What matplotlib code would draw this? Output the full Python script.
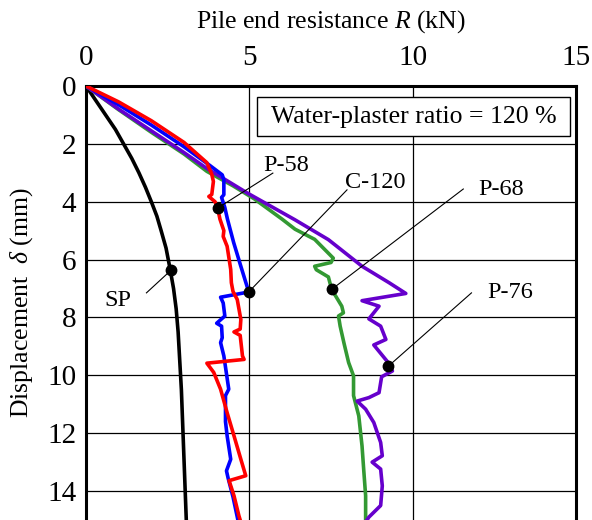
import matplotlib
matplotlib.use("Agg")
import matplotlib.pyplot as plt
from matplotlib.patches import Rectangle

plt.rcParams["font.family"] = ["Liberation Serif", "DejaVu Serif"]
plt.rcParams["mathtext.fontset"] = "custom"
plt.rcParams["mathtext.rm"] = "Liberation Serif"
plt.rcParams["mathtext.it"] = "Liberation Serif:italic"

# curves: resistance R (kN) vs displacement (mm)
sp_r = [0, 0.3, 0.6, 0.9, 1.15, 1.4, 1.62, 1.82, 2.0, 2.17, 2.3, 2.45, 2.57, 2.68,
        2.76, 2.82, 2.87, 2.92, 2.97, 3.02, 3.07]
sp_d = [0, 0.5, 1.0, 1.5, 2.0, 2.5, 3.0, 3.5, 4.0, 4.5, 5.0, 5.6, 6.3, 7.0,
        7.7, 8.5, 9.5, 10.5, 12.0, 13.5, 15.0]

p58_r = [0, 1.0, 2.0, 3.0, 3.7, 3.85, 3.9, 3.85, 3.76, 3.95, 4.03, 4.1, 4.22, 4.2,
         4.32, 4.43, 4.45, 4.5, 4.63, 4.74, 4.72, 4.53, 4.72, 4.79, 4.84, 3.7,
         3.91, 4.12, 4.32, 4.53, 4.74, 4.89, 4.38, 4.53, 4.68, 4.72]
p58_d = [0, 0.55, 1.2, 1.95, 2.65, 3.05, 3.3, 3.75, 3.82, 4.0, 4.22, 4.6, 5.0, 5.2,
         5.54, 6.34, 6.8, 7.1, 7.38, 8.07, 8.4, 8.5, 8.62, 9.33, 9.45, 9.58,
         9.9, 10.48, 11.29, 12.09, 12.9, 13.47, 13.64, 14.16, 14.85, 15.0]

c120_r = [0, 1.0, 2.0, 3.0, 3.76, 4.17, 4.22, 4.22, 4.15, 4.25, 4.33, 4.52, 4.74,
          4.95, 4.98, 4.12, 4.2, 4.25, 4.0, 4.15, 4.17, 4.12, 4.22, 4.37, 4.27,
          4.27, 4.32, 4.43, 4.3, 4.35, 4.5, 4.65]
c120_d = [0, 0.65, 1.35, 2.1, 2.72, 3.07, 3.24, 3.76, 3.85, 4.2, 4.6, 5.41, 6.23,
          7.0, 7.12, 7.3, 7.5, 7.95, 8.2, 8.3, 8.7, 8.87, 9.33, 10.48, 10.7,
          11.6, 12.09, 12.9, 13.3, 13.55, 14.2, 15.0]

p68_r = [0, 1.0, 2.0, 3.0, 3.7, 4.5, 5.15, 6.0, 6.4, 7.0, 7.57, 7.5, 7.0, 7.05,
         7.42, 7.52, 7.83, 7.88, 7.73, 7.78, 7.9, 8.04, 8.19, 8.19, 8.35, 8.45,
         8.5, 8.56, 8.56]
p68_d = [0, 0.82, 1.6, 2.35, 2.95, 3.45, 3.9, 4.6, 4.95, 5.3, 5.95, 6.1, 6.23, 6.35,
         6.6, 7.03, 7.61, 7.84, 7.95, 8.3, 8.9, 9.56, 10.02, 10.7, 11.4, 12.44,
         13.24, 14.16, 15.0]

p76_r = [0, 1.0, 2.0, 3.0, 3.7, 4.94, 6.39, 7.42, 8.45, 9.28, 9.79, 8.45, 8.97,
         8.66, 9.02, 9.18, 8.81, 9.28, 9.38, 9.05, 8.97, 8.66, 8.3, 8.56, 8.81,
         9.02, 9.07, 8.76, 9.02, 9.07, 9.02, 8.66, 8.6]
p76_d = [0, 0.8, 1.55, 2.3, 2.85, 3.7, 4.62, 5.31, 6.23, 6.8, 7.17, 7.42, 7.61,
         8.05, 8.3, 8.76, 8.95, 9.6, 9.85, 10.05, 10.6, 10.77, 10.89, 11.17, 11.63,
         12.32, 12.78, 13.0, 13.24, 13.82, 14.5, 14.9, 15.0]

# callouts: label, point on curve, end of leader line, text anchor
labels = ["P-58", "C-120", "P-68", "P-76", "SP"]
mark_r = [4.03, 4.98, 7.52, 9.26, 2.6]
mark_d = [4.22, 7.12, 7.03, 9.68, 6.37]
lead_r = [5.72, 7.99, 11.55, 11.8, 1.85]
lead_d = [3.01, 3.59, 3.56, 7.15, 7.15]
text_r = [5.42, 7.94, 12.0, 12.27, 0.56]
text_d = [2.95, 3.53, 3.76, 7.32, 7.62]

x_ticks = [0, 5, 10, 15]
y_ticks = [0, 2, 4, 6, 8, 10, 12, 14]

fig = plt.figure(figsize=(5.92, 5.2), dpi=100)
ax = fig.add_axes([86 / 592, 0, 490 / 592, 1 - 86 / 520])

ax.plot(sp_r, sp_d, color="black", lw=2.6, zorder=3)
ax.plot(p68_r, p68_d, color="#339933", lw=2.6, zorder=3)
ax.plot(p76_r, p76_d, color="#6600cc", lw=2.6, zorder=3)
ax.plot(c120_r, c120_d, color="#0000ff", lw=2.6, zorder=3)
ax.plot(p58_r, p58_d, color="#ff0000", lw=2.6, zorder=3)

for i in range(len(labels)):
    ax.plot([mark_r[i], lead_r[i]], [mark_d[i], lead_d[i]], color="black", lw=0.8, zorder=4)
    ax.plot(mark_r[i], mark_d[i], "o", color="black", ms=7.5, zorder=5)
    ax.text(text_r[i], text_d[i], labels[i], fontsize=17.5, va="baseline", ha="left", zorder=5)

ax.set_xlim(0, 15)
ax.set_ylim(15, 0)
ax.set_xticks(x_ticks)
ax.set_yticks(y_ticks)
ax.xaxis.tick_top()
ax.xaxis.set_label_position("top")
ax.tick_params(axis="both", length=0, labelsize=21)
ax.tick_params(axis="x", pad=11)
ax.tick_params(axis="y", pad=7)
ax.grid(True, color="black", lw=0.9)
ax.set_axisbelow(True)

for side in ["top", "left", "right"]:
    ax.spines[side].set_linewidth(2.2)
ax.spines["bottom"].set_visible(False)

ax.set_xlabel("Pile end resistance $\\it{R}$ (kN)", fontsize=18.5)
ax.xaxis.set_label_coords(0.5, 1 + 58 / 434)
ax.set_ylabel("Displacement  $\\it{\\delta}$ (mm)", fontsize=18.5)
ax.yaxis.set_label_coords(-0.105, 0.5)

ax.add_patch(Rectangle((5.23, 0.38), 9.6, 1.34, facecolor="white", edgecolor="black",
                       lw=1.0, zorder=6))
ax.text(10.03, 1.28, "Water-plaster ratio = 120 %", fontsize=18.5, ha="center",
        va="baseline", zorder=7)

fig.savefig("out.png", dpi=100)
